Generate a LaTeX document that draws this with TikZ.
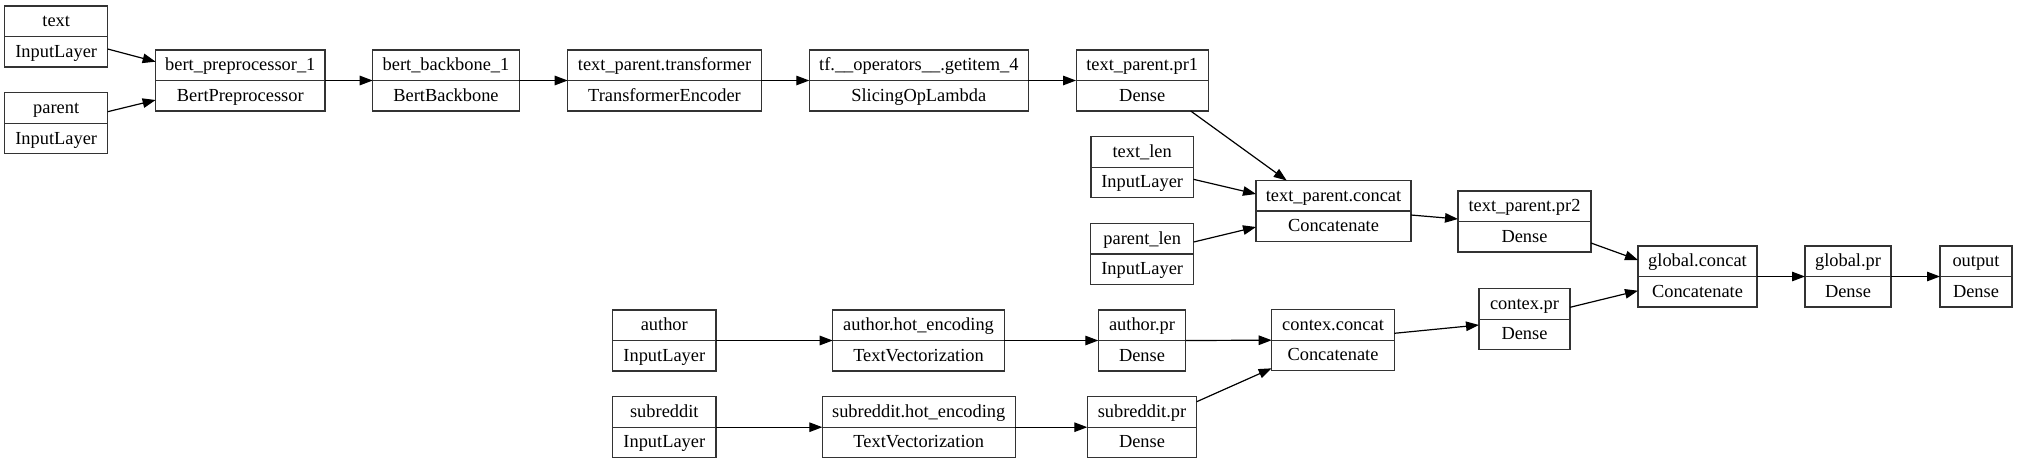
\documentclass[tikz,border=0pt]{standalone}
\usepackage{fontspec}
\setmainfont{LiberationSerif}[Extension=.ttf, UprightFont=*-Regular]
\usetikzlibrary{arrows.meta}
\tikzset{
  lbox/.style={draw=black!80, line width=1.1pt, rectangle, minimum height=61pt, inner sep=0pt, outer sep=0pt},
  divline/.style={draw=black!80, line width=1.1pt},
  ltxt/.style={inner sep=0pt, outer sep=0pt, anchor=base, font=\rmfamily\fontsize{18.4}{20}\selectfont},
  conn/.style={draw=black, line width=1.2pt, -{Triangle[length=13pt,width=9.5pt]}}
}
\newcommand\klayer[6]{%
  \node[lbox, minimum width=#4pt] (#1) at (#2,#3) {};
  \draw[divline] (#1.west) -- (#1.east);
  \node[ltxt] (#1-a) at ([yshift=9.75pt]#1.center) {#5};
  \node[ltxt] (#1-b) at ([yshift=-20.75pt]#1.center) {#6};
}
\begin{document}
\begin{tikzpicture}[x=1pt,y=-1pt]
\useasboundingbox (0,0) rectangle (2017,464);
\fill[white] (0,0) rectangle (2017,464);
% nodes
\klayer{text}{56.2}{36.5}{103}{text}{InputLayer}
\klayer{parent}{56.2}{123.3}{103}{parent}{InputLayer}
\klayer{bertpre}{240.3}{80.5}{169.3}{bert\_preprocessor\_1}{BertPreprocessor}
\klayer{bertbb}{446}{80.5}{146.6}{bert\_backbone\_1}{BertBackbone}
\klayer{tptrans}{664.5}{80.5}{193.6}{text\_parent.transformer}{TransformerEncoder}
\klayer{getitem}{918.8}{80.5}{219}{tf.\_\_operators\_\_.getitem\_4}{SlicingOpLambda}
\klayer{pr1}{1142.2}{80.5}{132.3}{text\_parent.pr1}{Dense}
\klayer{textlen}{1142.2}{167.2}{102.5}{text\_len}{InputLayer}
\klayer{parentlen}{1142.2}{254}{103}{parent\_len}{InputLayer}
\klayer{tpconcat}{1333.5}{211}{155}{text\_parent.concat}{Concatenate}
\klayer{pr2}{1524.5}{221.5}{133}{text\_parent.pr2}{Dense}
\klayer{gconcat}{1697.5}{276.5}{119}{global.concat}{Concatenate}
\klayer{gpr}{1848}{276.5}{86}{global.pr}{Dense}
\klayer{output}{1976}{276.5}{72}{output}{Dense}
\klayer{cpr}{1524.5}{319.2}{91}{contex.pr}{Dense}
\klayer{cconcat}{1333}{340.2}{122.6}{contex.concat}{Concatenate}
\klayer{author}{664.3}{340.5}{103.3}{author}{InputLayer}
\klayer{authorhot}{918.5}{340.5}{171.6}{author.hot\_encoding}{TextVectorization}
\klayer{authorpr}{1142}{340.5}{87.4}{author.pr}{Dense}
\klayer{subreddit}{664.3}{427.2}{103.3}{subreddit}{InputLayer}
\klayer{subhot}{918.7}{427.2}{192.7}{subreddit.hot\_encoding}{TextVectorization}
\klayer{subpr}{1142}{427.2}{109.4}{subreddit.pr}{Dense}
% connectors
\draw[conn] ([yshift=-12.5pt]text.east) -- ([yshift=18.8pt]bertpre.west);
\draw[conn] ([yshift=11.6pt]parent.east) -- ([yshift=-19.5pt]bertpre.west);
\draw[conn] (bertpre.east) -- (bertbb.west);
\draw[conn] (bertbb.east) -- (tptrans.west);
\draw[conn] (tptrans.east) -- (getitem.west);
\draw[conn] (getitem.east) -- (pr1.west);
\draw[conn] ([xshift=48.5pt]pr1.south) -- ([xshift=-46.8pt]tpconcat.north);
\draw[conn] ([yshift=-12.1pt]textlen.east) -- ([yshift=17pt]tpconcat.west);
\draw[conn] ([yshift=12pt]parentlen.east) -- ([yshift=-16pt]tpconcat.west);
\draw[conn] ([yshift=-4pt]tpconcat.east) -- ([yshift=2.5pt]pr2.west);
\draw[conn] ([yshift=-21.5pt]pr2.east) -- ([yshift=16.5pt]gconcat.west);
\draw[conn] ([yshift=11.9pt]cpr.east) -- ([yshift=-14.2pt]gconcat.west);
\draw[conn] (gconcat.east) -- (gpr.west);
\draw[conn] (gpr.east) -- (output.west);
\draw[conn] (author.east) -- (authorhot.west);
\draw[conn] (authorhot.east) -- (authorpr.west);
\draw[conn] (authorpr.east) -- (cconcat.west);
\draw[conn] (subreddit.east) -- (subhot.west);
\draw[conn] (subhot.east) -- (subpr.west);
\draw[conn] ([yshift=25.5pt]subpr.east) -- ([yshift=-28.1pt]cconcat.west);
\draw[conn] ([yshift=6.9pt]cconcat.east) -- ([yshift=-5.8pt]cpr.west);
\end{tikzpicture}
\end{document}
